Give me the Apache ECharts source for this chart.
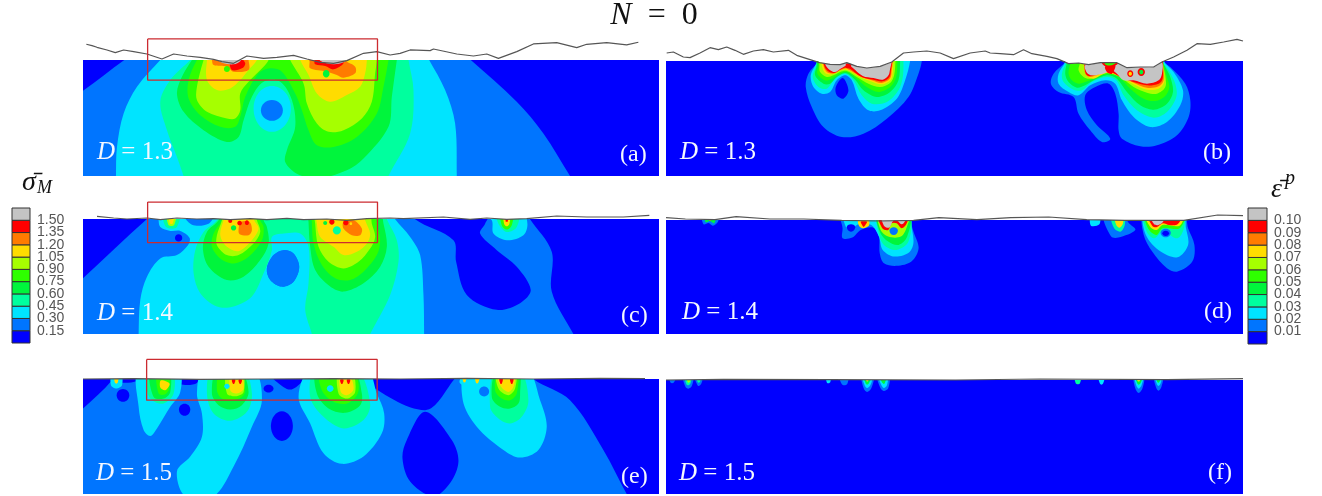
<!DOCTYPE html>
<html><head><meta charset="utf-8">
<style>html,body{margin:0;padding:0;background:#fff}#c{width:1322px;height:496px}</style>
<script src="https://cdn.jsdelivr.net/npm/echarts@6/dist/echarts.min.js"></script>
</head><body><div id="c"></div>
<script>
// contour band colours, index = band number (0 lowest, 10 saturated grey, 11 = outside the body)
const bandColors=['#0000ff','#0075ff','#00e4ff','#00ff9e','#00f53c','#2eff00','#a6ff00','#ffdc00','#ff7b00','#ff0000','#c4c4c4','#ffffff'];
const sigmaTicks=['0.00','0.15','0.30','0.45','0.60','0.75','0.90','1.05','1.20','1.35','1.50','2.39'];
const strainTicks=['0.00','0.01','0.02','0.03','0.04','0.05','0.06','0.07','0.08','0.09','0.10','1.81'];

// Contour bands: [band, outline]. Units are each panel's own axis units.
const contourA=[
[1,[[461,30],[1340,30],[1412,90],[1550,215],[1630,310],[1710,437],[1760,510],[200,510],[200,210],[248,182],[372,90]]],
[2,[[510,55],[480,90],[410,170],[370,250],[350,350],[347,437],[347,500],[1370,500],[1370,437],[1365,280],[1335,180],[1287,90],[1265,55]]],
[3,[[600,55],[570,90],[510,150],[480,215],[500,300],[530,380],[550,437],[570,500],[1140,500],[1165,437],[1230,310],[1240,180],[1225,90],[1220,55]]],
[4,[[600,55],[575,90],[545,140],[530,190],[550,245],[610,300],[680,335],[715,320],[730,270],[755,200],[790,155],[840,155],[875,210],[885,290],[860,360],[855,395],[890,430],[950,445],[1040,420],[1090,385],[1165,290],[1175,200],[1190,90],[1195,55]]],
[2,[[815,168],[872,235],[815,305],[760,235]],.55],
[1,[[815,210],[848,241],[815,272],[782,241]],.55],
[5,[[615,55],[590,90],[565,150],[565,205],[600,255],[660,290],[705,290],[720,260],[735,200],[775,130],[810,115],[845,125],[885,190],[905,240],[925,300],[950,345],[1000,350],[1070,320],[1130,250],[1150,170],[1165,90],[1170,55]]],
[6,[[625,55],[610,90],[590,170],[590,210],[620,245],[680,265],[705,265],[720,240],[720,190],[745,155],[790,110],[805,90],[810,55]]],
[6,[[860,55],[870,90],[910,160],[920,220],[950,280],[985,305],[1030,300],[1085,265],[1115,215],[1125,130],[1130,90],[1130,55]]],
[7,[[625,55],[620,90],[620,150],[650,180],[690,175],[720,150],[745,120],[770,90],[780,55]]],
[7,[[895,55],[900,90],[925,135],[950,190],[990,215],[1040,195],[1080,170],[1095,130],[1100,90],[1100,55]]],
[8,[[630,60],[635,90],[640,105],[680,110],[700,125],[745,120],[745,90],[740,60]]],
[8,[[925,60],[928,95],[930,115],[980,125],[1010,135],[1030,143],[1065,130],[1065,110],[1035,90],[1030,60]]],
[9,[[690,92],[695,120],[725,115],[735,100],[720,85]]],
[9,[[945,90],[945,103],[975,108],[1000,118],[1030,100],[1020,85]]],
[5,[[680,108],[689,117],[680,126],[671,117]],.55],
[4,[[978,120],[988,131],[978,142],[968,131]],.55],
[10,[[650,88],[668,99],[700,103],[720,94],[720,80],[650,80]]],
[10,[[960,92],[1000,103],[1035,94],[1035,80],[960,80]]]
];
const contourB=[
[1,[[473,80],[473,95],[445,130],[437,170],[455,230],[490,290],[545,320],[610,310],[680,265],[745,200],[775,130],[785,92],[785,70]]],
[0,[[548,143],[565,180],[550,205],[530,195],[527,170]]],
[2,[[475,60],[470,95],[452,135],[460,170],[485,190],[510,185],[530,150],[555,135],[575,150],[595,205],[625,240],[660,240],[710,205],[735,150],[750,92],[750,60]]],
[3,[[470,60],[470,100],[458,140],[475,170],[500,175],[525,145],[555,130],[580,150],[605,195],[635,220],[680,215],[715,180],[728,140],[730,92],[730,60]]],
[4,[[470,60],[470,105],[465,135],[490,160],[510,160],[530,140],[555,128],[585,148],[610,180],[650,200],[690,185],[715,150],[720,92],[720,60]]],
[5,[[475,60],[475,105],[472,130],[495,150],[515,145],[535,132],[560,125],[590,145],[620,170],[655,185],[690,170],[708,140],[712,92],[712,60]]],
[6,[[478,60],[478,105],[480,125],[500,140],[520,135],[540,125],[560,122],[595,143],[625,160],[660,170],[690,158],[702,135],[706,92],[706,60]]],
[7,[[480,60],[485,105],[495,128],[515,132],[535,122],[560,118],[600,140],[630,152],[665,162],[692,148],[698,125],[700,92],[700,60]]],
[8,[[485,60],[490,105],[500,125],[520,130],[540,120],[560,115],[603,140],[635,150],[665,158],[690,144],[695,120],[698,92],[698,60]]],
[9,[[490,60],[492,105],[503,122],[522,128],[540,118],[562,112],[605,140],[640,148],[668,153],[688,140],[693,115],[697,92],[697,60]]],
[10,[[494,60],[495,100],[508,118],[525,125],[545,113],[565,105],[608,137],[640,143],[668,148],[685,135],[690,115],[695,92],[695,60]]],
[9,[[558,100],[572,100],[572,112],[558,112]],.3],
[11,[[465,60],[473,92],[490,98],[510,102],[540,103],[560,97],[590,108],[620,113],[660,108],[697,93],[710,60]]],
[1,[[1215,80],[1215,95],[1180,130],[1172,160],[1195,185],[1240,200],[1255,250],[1290,300],[1325,335],[1350,325],[1310,285],[1280,240],[1275,195],[1305,170],[1345,160],[1365,190],[1375,250],[1375,300],[1385,325],[1440,348],[1490,345],[1550,315],[1585,260],[1590,210],[1575,160],[1530,110],[1505,92],[1505,70]]],
[2,[[1215,80],[1215,95],[1195,130],[1195,160],[1225,185],[1255,195],[1290,165],[1335,150],[1365,160],[1385,210],[1420,260],[1470,290],[1520,275],[1560,225],[1568,180],[1540,125],[1510,92],[1510,70]]],
[3,[[1218,80],[1218,95],[1205,130],[1210,155],[1240,178],[1265,180],[1295,155],[1340,140],[1368,150],[1390,195],[1430,240],[1480,262],[1520,245],[1548,200],[1545,160],[1525,120],[1505,92],[1505,70]]],
[4,[[1220,80],[1220,95],[1215,130],[1225,155],[1250,172],[1275,165],[1300,150],[1340,135],[1370,145],[1400,185],[1440,225],[1480,238],[1520,220],[1538,185],[1530,140],[1515,110],[1505,92],[1505,70]]],
[5,[[1230,80],[1230,95],[1225,130],[1235,150],[1255,160],[1275,155],[1300,145],[1340,132],[1375,140],[1410,175],[1450,205],[1485,212],[1515,197],[1527,170],[1520,140],[1508,92],[1508,70]]],
[6,[[1260,80],[1260,95],[1255,120],[1270,140],[1290,145],[1340,128],[1380,140],[1420,170],[1460,187],[1490,190],[1515,170],[1515,135],[1505,92],[1505,70]]],
[7,[[1270,80],[1270,100],[1275,125],[1285,140],[1300,145],[1340,128],[1382,140],[1420,162],[1460,178],[1495,175],[1512,155],[1510,130],[1505,92],[1505,70]]],
[8,[[1272,80],[1272,105],[1275,130],[1290,140],[1340,125],[1385,140],[1420,157],[1460,172],[1495,168],[1510,150],[1508,92],[1508,70]]],
[9,[[1273,80],[1273,105],[1277,130],[1290,137],[1340,122],[1387,143],[1420,155],[1460,165],[1495,160],[1507,145],[1507,92],[1507,70]]],
[10,[[1275,105],[1280,127],[1295,135],[1335,128],[1352,118],[1370,130],[1390,150],[1420,150],[1460,160],[1495,150],[1505,130],[1502,95],[1340,88]]],
[9,[[1335,108],[1365,105],[1355,130],[1340,125]]],
[9,[[1325,97],[1350,90],[1375,97],[1355,110],[1335,108]]],
[5,[[1333,97],[1350,92],[1367,97],[1352,105],[1338,104]]],
[9,[[1410,120],[1419,130],[1410,140],[1401,130]],.55],
[7,[[1410,124],[1415,130],[1410,136],[1405,130]],.55],
[9,[[1443,113],[1454,125],[1443,137],[1432,125]],.55],
[4,[[1443,118],[1449,125],[1443,132],[1437,125]],.55],
[11,[[1205,60],[1215,94],[1230,100],[1255,98],[1285,103],[1320,97],[1370,97],[1400,112],[1440,110],[1480,110],[1505,94],[1520,60]]]
];
const contourC=[
[1,[[200,310],[248,265],[440,86],[500,40],[1560,40],[1590,87],[1655,185],[1655,305],[1720,433],[1760,500],[200,500]]],
[0,[[1245,60],[1245,87],[1360,150],[1368,215],[1400,315],[1490,360],[1560,340],[1592,300],[1550,230],[1490,180],[1440,130],[1455,100],[1470,60]]],
[2,[[475,55],[475,90],[480,110],[510,122],[540,122],[568,143],[563,165],[530,195],[480,205],[440,260],[420,330],[415,433],[415,500],[1272,500],[1272,433],[1270,315],[1260,195],[1230,140],[1185,87],[1165,55]]],
[0,[[535,132],[546,143],[535,154],[524,143]],.55],
[1,[[850,180],[880,190],[897,230],[880,275],[845,290],[810,270],[800,235],[820,195]]],
[1,[[550,70],[640,70],[625,100],[575,103]]],
[3,[[490,70],[538,70],[530,110],[513,115],[495,108]]],
[6,[[500,70],[527,70],[522,103],[513,107],[504,103]]],
[7,[[505,70],[521,70],[518,98],[513,101],[508,98]]],
[3,[[660,55],[650,90],[610,125],[585,180],[580,250],[600,310],[650,350],[700,350],[755,320],[790,250],[815,180],[815,140],[850,130],[900,130],[925,170],[925,280],[915,360],[935,433],[945,480],[1090,480],[1110,433],[1170,315],[1195,215],[1190,150],[1160,87],[1150,55]]],
[1,[[850,180],[880,190],[897,230],[880,275],[845,290],[810,270],[800,235],[820,195]]],
[2,[[1440,60],[1475,90],[1480,130],[1520,150],[1570,135],[1582,100],[1565,60]]],
[3,[[1490,60],[1495,100],[1520,125],[1550,110],[1555,60]]],
[5,[[1502,60],[1505,105],[1520,118],[1535,105],[1538,60]]],
[7,[[1510,60],[1512,100],[1520,108],[1528,100],[1530,60]]],
[9,[[1517,80],[1517,94],[1523,94],[1523,80]],.2],
[4,[[665,55],[655,90],[620,125],[608,175],[625,230],[680,270],[730,260],[780,210],[805,160],[800,110],[790,90],[785,55]]],
[4,[[925,55],[925,95],[930,170],[945,240],[990,290],[1030,305],[1090,280],[1140,230],[1160,170],[1150,100],[1135,55]]],
[5,[[672,55],[665,90],[640,130],[635,170],[660,205],[700,220],[745,200],[785,150],[790,110],[780,90],[775,55]]],
[5,[[935,55],[935,95],[940,160],[965,225],[1005,265],[1050,270],[1090,245],[1130,195],[1140,150],[1130,100],[1120,55]]],
[6,[[670,55],[665,90],[650,135],[650,165],[680,195],[715,195],[760,160],[780,125],[770,90],[760,55]]],
[6,[[945,55],[945,100],[955,170],[985,215],[1030,235],[1075,215],[1110,175],[1125,140],[1115,100],[1105,55]]],
[7,[[680,55],[670,90],[660,135],[680,170],[715,183],[755,150],[775,115],[762,90],[755,55]]],
[7,[[950,55],[950,100],[960,140],[1000,170],[1030,195],[1070,185],[1100,160],[1110,130],[1095,90],[1090,55]]],
[8,[[722,95],[715,118],[718,132],[745,135],[755,120],[748,95]]],
[8,[[1030,95],[1030,115],[1055,135],[1080,135],[1085,115],[1060,90]]],
[9,[[690,86],[696,92],[690,98],[684,92]],.55],
[9,[[718,91],[725,98],[718,105],[711,98]],.55],
[9,[[740,90],[746,97],[740,104],[734,97]],.55],
[9,[[995,87],[1003,95],[995,103],[987,95]],.55],
[9,[[1037,89],[1045,97],[1037,105],[1029,97]],.55],
[7,[[1052,96],[1056,100],[1052,104],[1048,100]],.55],
[4,[[700,105],[708,113],[700,121],[692,113]],.55],
[3,[[1010,108],[1022,120],[1010,133],[998,120]],.55],
[4,[[975,92],[981,98],[975,104],[969,98]],.55]
];
const contourD=[
[1,[[100,60],[103,88],[115,84],[125,92],[137,80],[137,60]]],
[4,[[106,60],[108,82],[118,78],[128,85],[132,60]]],
[8,[[114,70],[118,78],[123,70]],.2],
[1,[[430,60],[432,100],[432,130],[455,128],[475,105],[505,98],[518,125],[520,175],[530,205],[560,213],[595,200],[612,160],[600,110],[592,75],[592,60]]],
[2,[[435,60],[438,90],[445,102],[460,95],[470,88],[500,90],[518,125],[527,165],[555,185],[590,172],[600,140],[592,75],[590,60]]],
[0,[[452,88],[462,97],[452,110],[442,97]],.55],
[3,[[515,60],[517,110],[530,150],[560,165],[588,140],[590,60]]],
[4,[[515,60],[520,110],[540,140],[565,150],[585,125],[590,60]]],
[6,[[518,60],[522,105],[540,125],[570,125],[583,100],[588,60]]],
[7,[[470,60],[470,90],[480,100],[495,90],[490,60]]],
[9,[[475,80],[482,96],[490,80]],.2],
[1,[[553,97],[563,107],[553,120],[543,107]],.55],
[9,[[518,60],[526,100],[540,105],[548,85],[560,85],[572,100],[584,85],[586,60]]],
[10,[[525,60],[530,92],[542,98],[552,78],[562,78],[572,88],[580,78],[580,60]]],
[2,[[1020,60],[1020,92],[1040,88],[1040,60]]],
[1,[[1050,60],[1068,125],[1085,128],[1125,105],[1110,85],[1095,60]]],
[3,[[1068,60],[1075,100],[1090,110],[1100,90],[1098,60]]],
[7,[[1076,60],[1080,90],[1088,98],[1096,85],[1094,60]]],
[1,[[1145,60],[1145,120],[1165,170],[1200,220],[1225,230],[1260,200],[1265,150],[1250,100],[1240,60]]],
[2,[[1147,60],[1150,120],[1185,170],[1225,187],[1250,150],[1245,100],[1238,60]]],
[3,[[1147,60],[1152,110],[1170,130],[1190,110],[1225,130],[1240,100],[1238,60]]],
[5,[[1150,60],[1155,100],[1175,120],[1190,100],[1230,100],[1240,60]]],
[1,[[1197,101],[1209,113],[1197,127],[1185,113]],.55],
[0,[[1197,107],[1205,115],[1197,123],[1189,115]],.55],
[7,[[1150,60],[1160,95],[1175,105],[1190,90],[1230,92],[1238,60]]],
[9,[[1155,60],[1165,92],[1175,97],[1190,85],[1205,90],[1225,88],[1235,60]]],
[10,[[1160,60],[1170,88],[1180,90],[1192,78],[1192,60]]]
];
const contourE=[
[1,[[200,215],[248,175],[335,90],[350,50],[1580,50],[1600,86],[1710,150],[1810,300],[1880,433],[1920,500],[200,500]]],
[0,[[335,60],[335,92],[410,92],[415,60]]],
[0,[[530,60],[540,100],[590,98],[600,60]]],
[0,[[800,60],[830,95],[870,118],[905,95],[930,60]]],
[0,[[1090,60],[1090,92],[1275,180],[1360,90],[1370,60]]],
[0,[[1275,185],[1220,270],[1207,325],[1230,395],[1300,440],[1350,400],[1375,335],[1355,270]]],
[0,[[368,116],[387,135],[368,155],[349,135]],.55],
[0,[[553,161],[570,178],[553,197],[536,178]],.55],
[0,[[845,183],[878,228],[845,273],[812,228]],.55],
[0,[[805,103],[820,115],[805,127],[790,115]],.55],
[2,[[415,60],[415,170],[430,240],[450,258],[470,235],[510,170],[540,125],[535,60]]],
[2,[[335,70],[332,105],[348,115],[365,105],[362,70]]],
[7,[[342,70],[343,95],[348,100],[353,95],[354,70]]],
[2,[[610,60],[590,130],[605,190],[605,260],[570,320],[530,365],[555,440],[640,440],[700,350],[755,230],[785,150],[760,60]]],
[2,[[930,60],[895,140],[930,220],[970,310],[1025,342],[1090,320],[1145,250],[1152,190],[1130,130],[1100,60]]],
[2,[[1400,60],[1388,150],[1430,230],[1510,300],[1560,323],[1615,300],[1640,230],[1620,150],[1580,60]]],
[1,[[1452,109],[1467,124],[1452,139],[1437,124]],.55],
[2,[[1390,70],[1378,95],[1392,105],[1405,95],[1404,70]]],
[2,[[1430,70],[1418,95],[1432,107],[1445,95],[1444,70]]],
[7,[[1386,70],[1390,95],[1396,95],[1400,70]]],
[7,[[1424,70],[1428,98],[1434,98],[1440,70]]],
[3,[[445,60],[440,120],[455,150],[490,160],[520,130],[515,60]]],
[4,[[450,60],[460,140],[490,145],[510,125],[505,60]]],
[5,[[470,60],[475,130],[495,132],[507,115],[503,60]]],
[7,[[482,90],[508,100],[495,120],[480,112]]],
[3,[[635,60],[620,130],[640,190],[690,212],[740,185],[755,130],[730,60]]],
[4,[[650,60],[635,130],[655,165],[690,178],[725,165],[745,125],[720,60]]],
[5,[[660,60],[650,120],[665,145],[695,150],[725,140],[735,120],[715,60]]],
[6,[[680,60],[680,130],[705,138],[730,125],[725,60]]],
[7,[[692,60],[690,120],[710,130],[730,115],[720,60]]],
[2,[[680,100],[688,108],[680,116],[672,108]],.55],
[3,[[945,60],[930,140],[970,200],[1030,235],[1090,210],[1110,160],[1070,60]]],
[4,[[950,60],[950,130],[985,175],[1035,188],[1080,165],[1085,130],[1060,60]]],
[5,[[960,60],[965,120],[1000,155],[1040,160],[1070,135],[1075,100],[1055,60]]],
[6,[[1015,60],[1015,130],[1040,145],[1065,125],[1055,60]]],
[7,[[1020,80],[1022,125],[1040,135],[1060,118],[1050,80]]],
[2,[[990,105],[1000,115],[990,125],[980,115]],.55],
[3,[[1485,60],[1470,170],[1495,205],[1530,220],[1565,200],[1585,150],[1560,60]]],
[4,[[1490,60],[1475,140],[1500,170],[1530,175],[1555,160],[1560,130],[1555,60]]],
[5,[[1495,60],[1485,120],[1505,145],[1530,150],[1550,130],[1550,60]]],
[6,[[1490,60],[1495,115],[1525,135],[1545,115],[1545,60]]],
[7,[[1492,60],[1500,105],[1525,125],[1542,105],[1542,60]]],
[9,[[1498,85],[1508,85],[1505,100],[1501,100]]],
[9,[[1530,85],[1540,85],[1537,100],[1533,100]]],
[9,[[695,88],[705,88],[702,100],[698,100]]],
[9,[[715,88],[725,88],[722,100],[718,100]]],
[9,[[1020,88],[1030,88],[1027,100],[1023,100]]],
[9,[[1040,88],[1050,88],[1047,100],[1043,100]]]
];
const contourF=[
[1,[[22,50],[25,68],[32,68],[38,50]]],
[1,[[55,50],[60,80],[67,86],[75,78],[78,50]]],
[3,[[59,50],[62,72],[67,76],[72,70],[74,50]]],
[6,[[63,50],[65,66],[68,68],[71,64],[71,50]]],
[1,[[82,50],[88,74],[92,78],[98,70],[100,50]]],
[3,[[86,50],[89,66],[92,68],[95,64],[96,50]]],
[2,[[393,50],[395,68],[399,70],[403,66],[404,50]]],
[1,[[425,50],[430,72],[436,76],[443,72],[445,50]]],
[1,[[478,50],[482,85],[490,96],[500,85],[505,50]]],
[2,[[480,50],[484,75],[490,84],[498,75],[502,50]]],
[4,[[483,50],[486,68],[490,74],[495,68],[499,50]]],
[7,[[487,55],[489,64],[492,64],[494,55]]],
[1,[[515,50],[522,85],[530,93],[540,85],[542,50]]],
[2,[[518,50],[524,76],[530,84],[537,76],[538,50]]],
[4,[[520,50],[525,66],[530,72],[533,66],[535,50]]],
[3,[[982,50],[984,70],[989,73],[994,70],[996,50]]],
[2,[[1038,50],[1041,70],[1045,74],[1049,70],[1052,50]]],
[1,[[1122,50],[1125,85],[1133,99],[1142,85],[1145,50]]],
[2,[[1124,50],[1127,75],[1133,86],[1140,75],[1143,50]]],
[4,[[1126,50],[1129,68],[1133,74],[1138,68],[1141,50]]],
[7,[[1129,55],[1131,64],[1135,64],[1137,55]]],
[1,[[1170,50],[1174,82],[1180,92],[1187,80],[1190,50]]],
[2,[[1172,50],[1176,72],[1180,78],[1185,70],[1187,50]]],
[4,[[1174,50],[1177,66],[1180,68],[1183,64],[1185,50]]]
];

// Rough surface profiles
const profileA=[[258,43],[275,47],[290,52],[320,60],[345,68],[370,60],[400,65],[440,72],[485,87],[520,72],[560,78],[600,82],[640,88],[665,95],[700,100],[740,78],[790,85],[830,82],[880,76],[920,87],[960,97],[1000,100],[1040,92],[1090,70],[1130,65],[1170,75],[1200,70],[1230,60],[1290,62],[1300,57],[1370,72],[1420,78],[1460,72],[1495,85],[1550,65],[1600,42],[1670,38],[1730,53],[1760,43],[1820,38],[1880,45],[1915,37]];
const profileB=[[20,68],[40,65],[70,80],[90,82],[120,68],[150,52],[175,58],[200,50],[225,60],[250,72],[280,62],[310,58],[340,65],[385,60],[410,75],[450,88],[478,97],[510,102],[540,103],[560,97],[590,108],[620,113],[660,108],[695,95],[730,68],[760,65],[800,62],[840,68],[880,85],[930,68],[975,62],[990,68],[1020,70],[1060,73],[1090,58],[1115,70],[1160,78],[1190,85],[1225,100],[1255,98],[1285,103],[1320,97],[1370,97],[1400,112],[1440,110],[1480,110],[1505,95],[1540,80],[1580,60],[1610,40],[1650,42],[1690,35],[1730,27],[1748,32]];
const profileC=[[290,78],[340,83],[380,86],[440,83],[480,88],[530,83],[590,86],[640,85],[690,88],[750,85],[800,88],[860,84],[910,88],[980,86],[1040,90],[1100,85],[1170,83],[1210,85],[1330,80],[1410,87],[1460,83],[1520,87],[1580,85],[1670,77],[1760,80],[1870,80],[1948,75]];
const profileD=[[14,68],[60,72],[130,74],[180,65],[260,72],[340,72],[430,76],[520,78],[600,76],[660,68],[750,74],[830,68],[920,66],[1010,74],[1100,76],[1240,76],[1320,60],[1380,62]];
const profileE=[[248,86],[400,85],[600,87],[800,86],[1000,85],[1200,86],[1400,84],[1600,86],[1800,84],[1935,85]];
const profileF=[[14,60],[150,58],[400,59],[700,60],[900,57],[1200,59],[1380,56]];

// Inspection windows drawn over the left column
const windowA=[[442,27],[1132,27],[1132,150],[442,150],[442,27]];
const windowC=[[442,35],[1132,35],[1132,157],[442,157],[442,35]];
const windowE=[[439,27],[1131,27],[1131,150],[439,150],[439,27]];

const panels=[
 {c:contourA,p:profileA,w:windowA,g:[83,60,576,116],x:[248,1977],y:[90,437],d:'1.3',dx:97,dy:152,t:'(a)',tx:620,ty:155},
 {c:contourB,p:profileB,g:[666,61,577,115],x:[18,1748],y:[92,437],d:'1.3',dx:680,dy:152,t:'(b)',tx:1203,ty:153},
 {c:contourC,p:profileC,w:windowC,g:[83,219,576,115],x:[248,1977],y:[86,433],d:'1.4',dx:97,dy:313,t:'(c)',tx:621,ty:316},
 {c:contourD,p:profileD,g:[666,220,577,114],x:[14,1380],y:[75,418],d:'1.4',dx:682,dy:312,t:'(d)',tx:1204,ty:312},
 {c:contourE,p:profileE,w:windowE,g:[83,379,576,115],x:[248,1977],y:[86,433],d:'1.5',dx:96,dy:473,t:'(e)',tx:621,ty:477},
 {c:contourF,p:profileF,g:[666,380,577,114],x:[14,1380],y:[60,403],d:'1.5',dx:679,dy:473,t:'(f)',tx:1208,ty:473}
];
const grids=[],xAxes=[],yAxes=[],series=[],graphics=[];
const serif='"Liberation Serif","DejaVu Serif",serif';
panels.forEach((P,i)=>{
  grids.push({left:P.g[0],top:P.g[1],width:P.g[2],height:P.g[3],backgroundColor:bandColors[0],show:true,borderWidth:0});
  xAxes.push({gridIndex:i,type:'value',min:P.x[0],max:P.x[1],show:false});
  yAxes.push({gridIndex:i,type:'value',min:P.y[0],max:P.y[1],inverse:true,show:false});
  series.push({type:'custom',xAxisIndex:i,yAxisIndex:i,clip:true,silent:true,animation:false,
    data:P.c.map(b=>b[1][0]),
    renderItem:(params,api)=>{
      const b=P.c[params.dataIndex];
      return {type:'polygon',shape:{points:b[1].map(v=>api.coord(v)),smooth:b[2]===undefined?.33:b[2]},style:{fill:bandColors[b[0]]}};
    }});
  series.push({type:'line',xAxisIndex:i,yAxisIndex:i,clip:false,silent:true,animation:false,showSymbol:false,data:P.p,
    lineStyle:{color:'#555',width:1.2}});
  if(P.w) series.push({type:'line',xAxisIndex:i,yAxisIndex:i,clip:false,silent:true,animation:false,showSymbol:false,data:P.w,z:5,
    lineStyle:{color:'#cc2b30',width:1.3}});
  graphics.push({type:'text',x:P.dx,y:P.dy,z:10,style:{text:'{i|D} = '+P.d,verticalAlign:'middle',fill:'#f4f8ff',font:'25px '+serif,
    rich:{i:{fontStyle:'italic',font:'italic 25px '+serif,fill:'#f4f8ff'}}}});
  graphics.push({type:'text',x:P.tx,y:P.ty,z:10,style:{text:P.t,verticalAlign:'middle',fill:'#f4f8ff',font:'24px '+serif}});
});
// colour bars
[[sigmaTicks,12,18,208,135],[strainTicks,1248,19,208,136]].forEach((b,k)=>{
  const gi=grids.length;
  grids.push({left:b[1],top:b[3],width:b[2],height:b[4]});
  xAxes.push({gridIndex:gi,type:'value',min:0,max:1,show:false});
  yAxes.push({gridIndex:gi,type:'value',min:0,max:11,interval:1,position:'right',
    axisLine:{show:false},splitLine:{show:false},axisTick:{show:true,length:5,lineStyle:{color:'#333',width:1}},
    axisLabel:{margin:7,color:'#555',fontSize:14,fontFamily:'"Liberation Sans",Arial,sans-serif',formatter:v=>b[0][v]}});
  series.push({type:'custom',xAxisIndex:gi,yAxisIndex:gi,silent:true,animation:false,
    data:b[0].slice(0,11).map((t,i)=>[i]),
    renderItem:(params,api)=>{
      const i=params.dataIndex,a=api.coord([0,i+1]),c=api.coord([1,i]);
      return {type:'rect',shape:{x:a[0],y:a[1],width:c[0]-a[0],height:c[1]-a[1]},style:{fill:bandColors[i],stroke:'#333',lineWidth:1}};
    }});
});
graphics.push({type:'text',x:654,y:16,style:{text:'{i|N}  =  0',align:'center',verticalAlign:'middle',fill:'#111',font:'32px '+serif,rich:{i:{font:'italic 32px '+serif,fill:'#111'}}}});
graphics.push({type:'text',x:22,y:183,style:{text:'σ̄',verticalAlign:'middle',fill:'#111',font:'italic 28px '+serif}});
graphics.push({type:'text',x:37,y:188,style:{text:'M',verticalAlign:'middle',fill:'#111',font:'italic 18px '+serif}});
graphics.push({type:'text',x:1271,y:190,style:{text:'ε̄',verticalAlign:'middle',fill:'#111',font:'italic 28px '+serif}});
graphics.push({type:'text',x:1285,y:179,style:{text:'p',verticalAlign:'middle',fill:'#111',font:'italic 20px '+serif}});
const chart=echarts.init(document.getElementById('c'),null,{renderer:'canvas'});
chart.setOption({animation:false,backgroundColor:'#fff',grid:grids,xAxis:xAxes,yAxis:yAxes,series:series,graphic:{elements:graphics}});
</script></body></html>
